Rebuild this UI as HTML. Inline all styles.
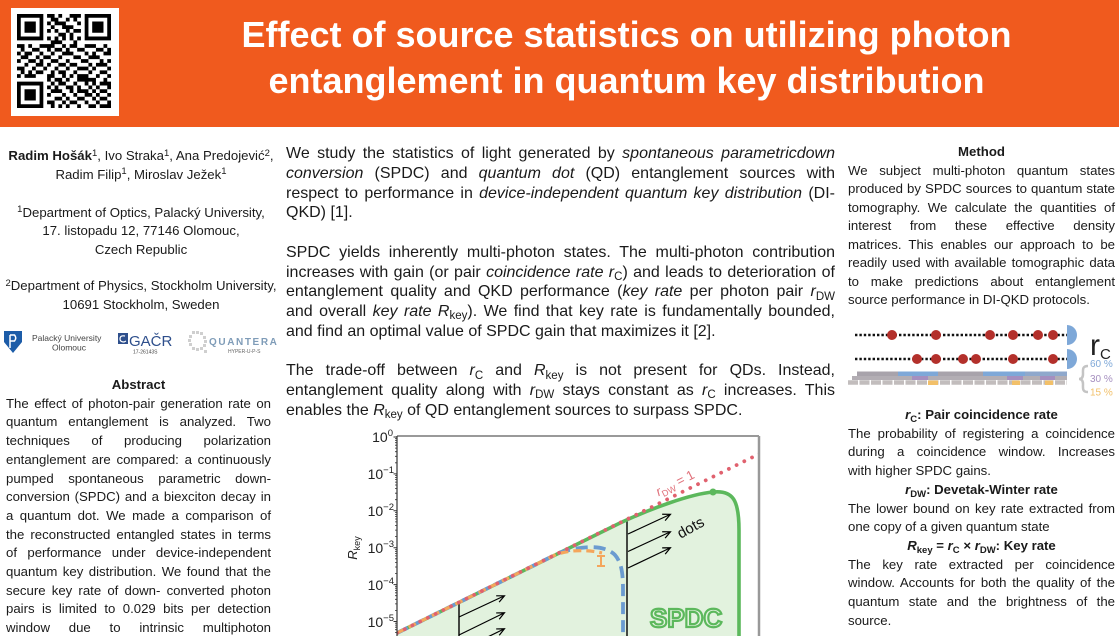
<!DOCTYPE html>
<html><head><meta charset="utf-8">
<style>
*{margin:0;padding:0;box-sizing:border-box}
html,body{width:1119px;height:636px;overflow:hidden;background:#fff}
body{position:relative;font-family:"Liberation Sans","DejaVu Sans",sans-serif;color:#1a1a1a}
.hdr{position:absolute;left:0;top:0;width:1119px;height:127px;background:#f05a1e}
.title{position:absolute;left:134px;top:12px;width:985px;text-align:center;color:#fff;font-weight:bold;font-size:36px;line-height:46px;white-space:nowrap}
sub{font-size:0.72em;line-height:0;position:relative;vertical-align:baseline;top:0.3em}
sup{font-size:0.72em;line-height:0;position:relative;vertical-align:baseline;top:-0.45em}
.lc{position:absolute;left:0;width:282px;text-align:center;font-size:13.2px;line-height:18.6px;white-space:nowrap}
.col{position:absolute;font-size:13.2px;line-height:18.7px}
.mid{position:absolute;left:286px;top:144px;width:549px;font-size:16px;line-height:19.75px}
.j{text-align:justify;text-align-last:justify}
.l{text-align:left}
.h{text-align:center;font-weight:bold}
.gap{height:19.75px}
svg{position:absolute;left:0;top:0}
</style></head><body>
<div class="hdr"></div>
<div class="title">Effect of source statistics on utilizing photon<br>entanglement in quantum key distribution</div>

<!-- left column -->
<div class="lc" style="top:147px"><b>Radim Hošák</b><sup>1</sup>, Ivo Straka<sup>1</sup>, Ana Predojević<sup>2</sup>,<br>Radim Filip<sup>1</sup>, Miroslav Ježek<sup>1</sup></div>
<div class="lc" style="top:203.5px"><sup>1</sup>Department of Optics, Palacký University,<br>17. listopadu 12, 77146 Olomouc,<br>Czech Republic</div>
<div class="lc" style="top:277px"><sup>2</sup>Department of Physics, Stockholm University,<br>10691 Stockholm, Sweden</div>

<div class="col" style="left:6px;top:376px;width:265px">
<div class="h">Abstract</div>
<div class="j">The effect of photon-pair generation rate on</div>
<div class="j">quantum entanglement is analyzed. Two</div>
<div class="j">techniques of producing polarization</div>
<div class="j">entanglement are compared: a continuously</div>
<div class="j">pumped spontaneous parametric down-</div>
<div class="j">conversion (SPDC) and a biexciton decay in</div>
<div class="j">a quantum dot. We made a comparison of</div>
<div class="j">the reconstructed entangled states in terms</div>
<div class="j">of performance under device-independent</div>
<div class="j">quantum key distribution. We found that the</div>
<div class="j">secure key rate of down- converted photon</div>
<div class="j">pairs is limited to 0.029 bits per detection</div>
<div class="j">window due to intrinsic multiphoton</div>
</div>

<!-- middle column -->
<div class="mid">
<div class="j">We study the statistics of light generated by <i>spontaneous parametricdown</i></div>
<div class="j"><i>conversion</i> (SPDC) and <i>quantum dot</i> (QD) entanglement sources with</div>
<div class="j">respect to performance in <i>device-independent quantum key distribution</i> (DI-</div>
<div class="l">QKD) [1].</div>
<div class="gap"></div>
<div class="j">SPDC yields inherently multi-photon states. The multi-photon contribution</div>
<div class="j">increases with gain (or pair <i>coincidence rate r</i><sub>C</sub>) and leads to deterioration of</div>
<div class="j">entanglement quality and QKD performance (<i>key rate</i> per photon pair <i>r</i><sub>DW</sub></div>
<div class="j">and overall <i>key rate R</i><sub>key</sub>). We find that key rate is fundamentally bounded,</div>
<div class="l">and find an optimal value of SPDC gain that maximizes it [2].</div>
<div class="gap"></div>
<div class="j">The trade-off between <i>r</i><sub>C</sub> and <i>R</i><sub>key</sub> is not present for QDs. Instead,</div>
<div class="j">entanglement quality along with <i>r</i><sub>DW</sub> stays constant as <i>r</i><sub>C</sub> increases. This</div>
<div class="l">enables the <i>R</i><sub>key</sub> of QD entanglement sources to surpass SPDC.</div>
</div>

<!-- right column -->
<div class="col" style="left:848px;top:143px;width:267px;line-height:18.5px">
<div class="h">Method</div>
<div class="j">We subject multi-photon quantum states</div>
<div class="j">produced by SPDC sources to quantum state</div>
<div class="j">tomography. We calculate the quantities of</div>
<div class="j">interest from these effective density</div>
<div class="j">matrices. This enables our approach to be</div>
<div class="j">readily used with available tomographic data</div>
<div class="j">to make predictions about entanglement</div>
<div class="l">source performance in DI-QKD protocols.</div>
</div>
<div class="col" style="left:848px;top:406px;width:267px">
<div class="h"><i>r</i><sub>C</sub>: Pair coincidence rate</div>
<div class="j">The probability of registering a coincidence</div>
<div class="j">during a coincidence window. Increases</div>
<div class="l">with higher SPDC gains.</div>
<div class="h"><i>r</i><sub>DW</sub>: Devetak-Winter rate</div>
<div class="j">The lower bound on key rate extracted from</div>
<div class="l">one copy of a given quantum state</div>
<div class="h"><i>R</i><sub>key</sub> = <i>r</i><sub>C</sub> × <i>r</i><sub>DW</sub>: Key rate</div>
<div class="j">The key rate extracted per coincidence</div>
<div class="j">window. Accounts for both the quality of the</div>
<div class="j">quantum state and the brightness of the</div>
<div class="l">source.</div>
</div>

<svg width="1119" height="636" viewBox="0 0 1119 636" xmlns="http://www.w3.org/2000/svg" font-family="Liberation Sans, DejaVu Sans, sans-serif">
<defs>
<clipPath id="ax"><rect x="397" y="436" width="362" height="200"/></clipPath>
<marker id="ah" markerWidth="10" markerHeight="10" refX="8" refY="5" orient="auto" markerUnits="userSpaceOnUse"><path d="M1,1.5 L8.5,5 L1,8.5" fill="none" stroke="#000" stroke-width="1.2"/></marker>
</defs>

<!-- QR code -->
<rect x="11" y="8" width="108" height="108" fill="#fff"/>
<g transform="translate(17,14) scale(3.76)">
<path fill="#000" fill-rule="evenodd" d="M0 0h7v7h-7z M1 1v5h5v-5z M2 2h3v3h-3z M18 0h7v7h-7z M19 1v5h5v-5z M20 2h3v3h-3z M0 18h7v7h-7z M1 19v5h5v-5z M2 20h3v3h-3z"/>
<path fill="#000" d="M8 0h2v1h-2z M11 0h1v1h-1z M14 0h3v1h-3z M9 1h2v1h-2z M13 1h1v1h-1z M15 1h1v1h-1z M8 2h1v1h-1z M10 2h3v1h-3z M16 2h1v1h-1z M9 3h1v1h-1z M12 3h3v1h-3z M8 4h1v1h-1z M10 4h1v1h-1z M13 4h1v1h-1z M15 4h2v1h-2z M11 5h2v1h-2z M14 5h1v1h-1z M8 6h1v1h-1z M10 6h1v1h-1z M12 6h1v1h-1z M14 6h1v1h-1z M16 6h1v1h-1z M9 7h3v1h-3z M15 7h1v1h-1z M0 8h2v1h-2z M3 8h1v1h-1z M6 8h4v1h-4z M12 8h1v1h-1z M14 8h2v1h-2z M18 8h3v1h-3z M23 8h1v1h-1z M1 9h1v1h-1z M4 9h2v1h-2z M8 9h1v1h-1z M10 9h2v1h-2z M13 9h1v1h-1z M16 9h2v1h-2z M21 9h2v1h-2z M24 9h1v1h-1z M0 10h1v1h-1z M2 10h2v1h-2z M6 10h1v1h-1z M9 10h1v1h-1z M12 10h3v1h-3z M18 10h1v1h-1z M20 10h1v1h-1z M23 10h2v1h-2z M1 11h2v1h-2z M5 11h1v1h-1z M7 11h2v1h-2z M11 11h1v1h-1z M15 11h2v1h-2z M19 11h3v1h-3z M0 12h1v1h-1z M3 12h2v1h-2z M6 12h1v1h-1z M9 12h2v1h-2z M13 12h1v1h-1z M17 12h2v1h-2z M22 12h1v1h-1z M24 12h1v1h-1z M2 13h1v1h-1z M5 13h2v1h-2z M8 13h1v1h-1z M11 13h2v1h-2z M14 13h2v1h-2z M19 13h1v1h-1z M21 13h3v1h-3z M0 14h2v1h-2z M4 14h1v1h-1z M7 14h1v1h-1z M10 14h1v1h-1z M13 14h1v1h-1z M16 14h3v1h-3z M20 14h1v1h-1z M24 14h1v1h-1z M1 15h1v1h-1z M3 15h1v1h-1z M5 15h2v1h-2z M9 15h1v1h-1z M11 15h2v1h-2z M15 15h1v1h-1z M19 15h1v1h-1z M22 15h2v1h-2z M0 16h1v1h-1z M2 16h3v1h-3z M8 16h2v1h-2z M12 16h1v1h-1z M14 16h1v1h-1z M16 16h3v1h-3z M21 16h1v1h-1z M24 16h1v1h-1z M8 17h1v1h-1z M10 17h2v1h-2z M13 17h1v1h-1z M16 17h5v1h-5z M23 17h1v1h-1z M9 18h1v1h-1z M11 18h2v1h-2z M15 18h1v1h-1z M18 18h1v1h-1z M20 18h1v1h-1z M22 18h3v1h-3z M8 19h1v1h-1z M10 19h1v1h-1z M13 19h2v1h-2z M16 19h1v1h-1z M19 19h1v1h-1z M21 19h1v1h-1z M24 19h1v1h-1z M9 20h3v1h-3z M14 20h1v1h-1z M16 20h3v1h-3z M20 20h1v1h-1z M22 20h2v1h-2z M8 21h1v1h-1z M12 21h1v1h-1z M15 21h1v1h-1z M18 21h2v1h-2z M21 21h1v1h-1z M24 21h1v1h-1z M10 22h2v1h-2z M13 22h1v1h-1z M16 22h2v1h-2z M20 22h1v1h-1z M22 22h2v1h-2z M8 23h2v1h-2z M12 23h1v1h-1z M14 23h2v1h-2z M18 23h1v1h-1z M21 23h1v1h-1z M24 23h1v1h-1z M9 24h1v1h-1z M11 24h1v1h-1z M13 24h1v1h-1z M16 24h1v1h-1z M19 24h2v1h-2z M22 24h3v1h-3z"/>
</g>

<!-- logos -->
<path d="M4,331 H22 V342 L13,353 L4,342 Z" fill="#1c5ca8"/>
<path d="M10,335 V348 M10,335 H14.5 Q17,338 14.5,341 H10" stroke="#fff" stroke-width="1.5" fill="none"/>
<text x="32" y="341" font-size="8.5" fill="#444">Palacký University</text>
<text x="69" y="350.5" font-size="8.5" fill="#444" text-anchor="middle">Olomouc</text>
<rect x="118" y="333" width="10" height="11" fill="#2e4f8c"/>
<path d="M125,336 Q120,335 120,339 Q120,342 124,342 L126,341" stroke="#fff" stroke-width="1.2" fill="none"/>
<text x="129" y="346" font-size="15" fill="#2e4f8c">GAČR</text>
<text x="133" y="353.5" font-size="5" fill="#444">17-26143S</text>
<g fill="#cfcfcf">
<rect x="192" y="331" width="3" height="3"/><rect x="196" y="331" width="3" height="3"/><rect x="200" y="332" width="3" height="3"/>
<rect x="189" y="335" width="3" height="3"/><rect x="203" y="336" width="3" height="3"/><rect x="188" y="339" width="3" height="3"/>
<rect x="204" y="340" width="3" height="3"/><rect x="189" y="343" width="3" height="3"/><rect x="203" y="344" width="3" height="3"/>
<rect x="192" y="347" width="3" height="3"/><rect x="196" y="348" width="3" height="3"/><rect x="200" y="347" width="3" height="3"/><rect x="204" y="350" width="3" height="3"/>
</g>
<text x="209" y="345" font-size="10" font-weight="bold" fill="#7f9cb8" letter-spacing="1.6">QUANTERA</text>
<text x="228" y="353" font-size="5" fill="#666">HYPER-U-P-S</text>

<!-- chart -->
<g clip-path="url(#ax)">
<path d="M397,636 L397,633 L620,523 C650,509 690,494 713,492 C733,490 739,500 739,530 L739,636 Z" fill="#e2f2de"/>
<path d="M459,601 V636 M627,519 V636" stroke="#000" stroke-width="1.4" fill="none"/>
<g stroke="#000" stroke-width="1.2" fill="none" marker-end="url(#ah)">
<line x1="628" y1="534" x2="670" y2="514.5"/>
<line x1="628" y1="551.5" x2="670" y2="532"/>
<line x1="628" y1="568" x2="670" y2="548"/>
<line x1="459" y1="617" x2="504" y2="596"/>
<line x1="459" y1="635" x2="504" y2="613"/>
<line x1="459" y1="651" x2="504" y2="629"/>
</g>
<path d="M397,633 L620,523 C650,509 690,494 713,492 C733,490 739,500 739,530 L739,640" stroke="#5cb85c" stroke-width="3.6" fill="none"/>
<circle cx="713" cy="492" r="3.5" fill="#5cb85c"/>
<path d="M397,633 L560,552.5 C585,545 605,545 615,555 C622,563 623,575 623,590 L623,640" stroke="#6b9bd0" stroke-width="3.8" fill="none" stroke-dasharray="12 6"/>
<path d="M397,633 L555,555 C570,549 590,550 602,553" stroke="#f4a65c" stroke-width="3.2" fill="none" stroke-dasharray="8 5"/>
<path d="M601,556 V566 M597,556 H605 M597,566 H605" stroke="#f4a65c" stroke-width="2"/>
<path d="M397,633 L762,452.5" stroke="#e0616e" stroke-width="3.8" fill="none" stroke-dasharray="0.01 8.6" stroke-linecap="round"/>
<text x="650" y="627" font-size="26" font-weight="bold" fill="#e3f3df" stroke="#5cb85c" stroke-width="2.2">SPDC</text>
<text transform="translate(693,532) rotate(-29)" text-anchor="middle" font-size="15" fill="#111">dots</text>
<text transform="translate(677,487) rotate(-27)" text-anchor="middle" font-size="13" fill="#e0707a"><tspan font-style="italic">r</tspan><tspan font-size="9" dy="3">DW</tspan><tspan dy="-3"> = 1</tspan></text>
</g>
<path d="M397,436 H759" stroke="#333" stroke-width="1"/>
<path d="M397,436 V636" stroke="#333" stroke-width="1.2"/>
<path d="M759,436 V636" stroke="#999" stroke-width="2.5"/>
<path d="M397,437h-3.5 M397,473.9h-3.5 M397,510.8h-3.5 M397,547.7h-3.5 M397,584.6h-3.5 M397,621.5h-3.5" stroke="#333" stroke-width="1"/>
<path d="M397,462.8h-2M397,456.3h-2M397,451.7h-2M397,448.1h-2M397,445.2h-2M397,442.7h-2M397,440.6h-2M397,438.7h-2 M397,499.7h-2M397,493.2h-2M397,488.6h-2M397,485h-2M397,482.1h-2M397,479.6h-2M397,477.5h-2M397,475.6h-2 M397,536.6h-2M397,530.1h-2M397,525.5h-2M397,521.9h-2M397,519h-2M397,516.5h-2M397,514.4h-2M397,512.5h-2 M397,573.5h-2M397,567h-2M397,562.4h-2M397,558.8h-2M397,555.9h-2M397,553.4h-2M397,551.3h-2M397,549.4h-2 M397,610.4h-2M397,603.9h-2M397,599.3h-2M397,595.7h-2M397,592.8h-2M397,590.3h-2M397,588.2h-2M397,586.3h-2 M397,632.6h-2M397,629.7h-2M397,627.2h-2M397,625.1h-2M397,623.2h-2" stroke="#333" stroke-width="0.8"/>
<g font-size="14" fill="#222" text-anchor="end">
<text x="393" y="442">10<tspan font-size="9.5" dy="-6">0</tspan></text>
<text x="394" y="479">10<tspan font-size="9.5" dy="-6">−1</tspan></text>
<text x="394" y="516">10<tspan font-size="9.5" dy="-6">−2</tspan></text>
<text x="394" y="553">10<tspan font-size="9.5" dy="-6">−3</tspan></text>
<text x="394" y="590">10<tspan font-size="9.5" dy="-6">−4</tspan></text>
<text x="394" y="627">10<tspan font-size="9.5" dy="-6">−5</tspan></text>
</g>
<text transform="translate(357,548) rotate(-90)" text-anchor="middle" font-size="13" fill="#222"><tspan font-style="italic">R</tspan><tspan font-size="9" dy="3">key</tspan></text>

<!-- method figure -->
<path d="M855,335 H1067 M855,359 H1067" stroke="#111" stroke-width="2.6" stroke-dasharray="2.4 2"/>
<g fill="#b3302b">
<circle cx="892" cy="335" r="5"/><circle cx="936" cy="335" r="5"/><circle cx="990" cy="335" r="5"/><circle cx="1013" cy="335" r="5"/><circle cx="1038" cy="335" r="5"/><circle cx="1053" cy="335" r="5"/>
<circle cx="917" cy="359" r="5"/><circle cx="936" cy="359" r="5"/><circle cx="963" cy="359" r="5"/><circle cx="976" cy="359" r="5"/><circle cx="1013" cy="359" r="5"/><circle cx="1053" cy="359" r="5"/>
</g>
<path d="M1067,325 A10,10 0 0 1 1067,345 Z M1067,349 A10,10 0 0 1 1067,369 Z" fill="#7ea8d8"/>
<text x="1090" y="355" font-size="30" fill="#222">r</text>
<text x="1100" y="359" font-size="15" fill="#222">C</text>
<g>
<rect x="857" y="371.5" width="41" height="4.5" fill="#a8a3ab"/>
<rect x="898" y="371.5" width="40" height="4.5" fill="#7ea8d8"/>
<rect x="938" y="371.5" width="45" height="4.5" fill="#a8a3ab"/>
<rect x="983" y="371.5" width="42" height="4.5" fill="#7ea8d8"/>
<rect x="1025" y="371.5" width="42" height="4.5" fill="#8fa8cc"/>
<rect x="852" y="376" width="215" height="4" fill="#b3aeb4"/>
<rect x="912" y="376" width="16" height="4" fill="#a58fbf"/>
<rect x="1007" y="376" width="16" height="4" fill="#a58fbf"/>
<rect x="1040" y="376" width="15" height="4" fill="#a58fbf"/>
<path d="M848,382.5 H1067" stroke="#c2bdbd" stroke-width="4.5" stroke-dasharray="10 1.5"/>
<rect x="928" y="380.5" width="10" height="4.5" fill="#f2c069"/>
<rect x="1012" y="380.5" width="8" height="4.5" fill="#f2c069"/>
<rect x="1045" y="380.5" width="8" height="4.5" fill="#f2c069"/>
</g>
<path d="M1088,366 C1082,366 1083,370 1083,374 C1083,377 1082,379 1079,379 C1082,379 1083,381 1083,384 C1083,388 1082,392 1088,392" stroke="#c4c4c4" stroke-width="2.5" fill="none"/>
<text x="1090" y="367" font-size="10" fill="#7ea8d8">60 %</text>
<text x="1090" y="382" font-size="10" fill="#a58fbf">30 %</text>
<text x="1090" y="395.5" font-size="10" fill="#f2c069">15 %</text>
</svg>
</body></html>
